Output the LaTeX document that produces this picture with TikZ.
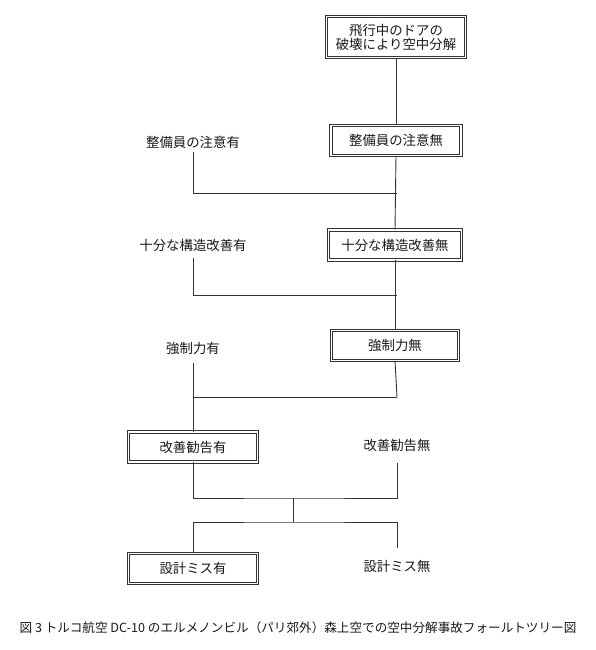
\documentclass[tikz,border=0pt]{standalone}
\usepackage{fontspec}
\setmainfont{Noto Sans CJK JP}
\begin{document}
\begin{tikzpicture}[x=1pt,y=1pt,
  every node/.style={font=\fontsize{13.4}{17}\selectfont, text=black!90},
  evbox/.style={draw=black!80, line width=0.8pt, double=white, double distance=1.6pt, minimum width=#1, minimum height=30pt, inner sep=2pt, align=center},
  evbox/.default=130pt,
  lbl/.style={inner sep=0pt},
  conn/.style={draw=black!80, line width=0.9pt}
]
\useasboundingbox (0,0) rectangle (595,-650);
\node[evbox=139pt, minimum height=41pt] (top) at (396,-37) {飛行中のドアの\\[-3pt]破壊により空中分解};
\node[evbox=130pt] (b1) at (396,-140.5) {整備員の注意無};
\node[lbl] (l1) at (193,-142) {整備員の注意有};
\node[evbox=133pt] (b2) at (395,-245) {十分な構造改善無};
\node[lbl] (l2) at (193,-245) {十分な構造改善有};
\node[evbox=127pt] (b3) at (395,-345.5) {強制力無};
\node[lbl] (l3) at (193,-348) {強制力有};
\node[evbox=129pt] (b4) at (193,-447) {改善勧告有};
\node[lbl] (l4) at (397,-445) {改善勧告無};
\node[evbox=129pt] (b5) at (193,-568.5) {設計ミス有};
\node[lbl] (l5) at (397,-566) {設計ミス無};
\node[lbl, font=\fontsize{12.6}{15}\selectfont] (cap) at (298,-628) {図 3 トルコ航空 DC-10 のエルメノンビル（パリ郊外）森上空での空中分解事故フォールトツリー図};
% free ends and junctions
\coordinate (l1s) at (193,-152);
\coordinate (l2s) at (193,-258);
\coordinate (l3s) at (193,-363);
\coordinate (l4s) at (397,-463);
\coordinate (l5s) at (397,-548);
\coordinate (j1) at (397,-193);
\coordinate (j2) at (397,-295);
\coordinate (j3) at (397,-397);
\coordinate (j4) at (293,-498);
\coordinate (j5) at (293,-522);
% connectors
\draw[conn] (top.south) -- (b1.north);
\draw[conn] (b1.south) -- (b2.north);
\draw[conn] (b2.south) -- (b3.north);
\draw[conn] (b3.south) -- (j3);
\draw[conn] (l1s) |- (j1);
\draw[conn] (l2s) |- (j2);
\draw[conn] (l3s) -- (b4.north);
\draw[conn] (l3s |- j3) -- (j3);
\draw[conn] (b4.south) |- (j4) -| (l4s);
\draw[conn] (j4) -- (j5);
\draw[conn] (b5.north) |- (j5) -| (l5s);
\end{tikzpicture}
\end{document}
